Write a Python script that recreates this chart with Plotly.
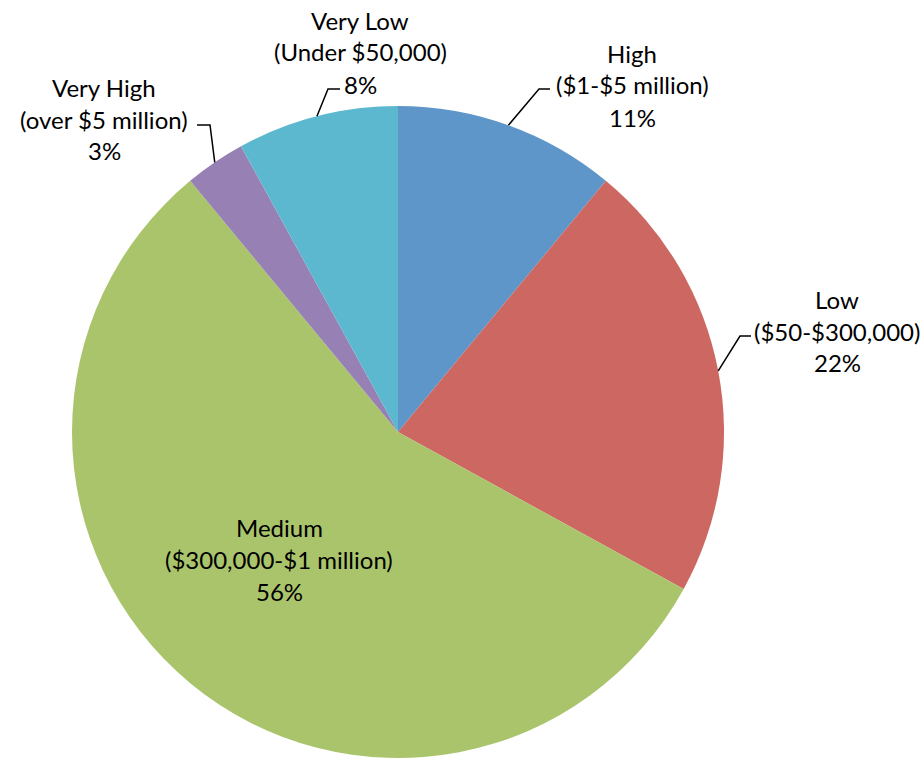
import math
import plotly.graph_objects as go

# Project size distribution
categories = ["High", "Low", "Medium", "Very High", "Very Low"]
ranges = ["($1-$5 million)", "($50-$300,000)", "($300,000-$1 million)",
          "(over $5 million)", "(Under $50,000)"]
shares = [11, 22, 56, 3, 8]
colors = ["#5F96CA", "#CD6761", "#AAC46C", "#9780B4", "#5CB8CF"]

W, H = 922, 758
CX, CY, R = 398, 432, 326  # pie centre / radius in pixels

# label centre (x, first-line y) and leader elbow / end for outside labels
label_pos = {
    "High": (632, 53),
    "Low": (837, 299),
    "Medium": (279, 527),
    "Very High": (104, 87),
    "Very Low": (360, 20),
}
leaders = {
    "High": [(539, 89), (550, 89)],
    "Low": [(740, 336), (751, 336)],
    "Very High": [(210, 125), (197, 125)],
    "Very Low": [(328, 89), (340, 89)],
}

FONT = "Lato"
FS = 24
LINE = 32


def px(x, y):
    return x / W, 1 - y / H


fig = go.Figure(go.Pie(
    labels=categories,
    values=shares,
    marker=dict(colors=colors, line=dict(width=0)),
    sort=False,
    direction="clockwise",
    rotation=0,
    textinfo="none",
    hoverinfo="label+percent",
    domain=dict(x=[(CX - R) / W, (CX + R) / W],
                y=[(H - CY - R) / H, (H - CY + R) / H]),
    showlegend=False,
))

annotations = []
shapes = []
total = sum(shares)
cum = 0
for cat, rng, val in zip(categories, ranges, shares):
    mid = (cum + val / 2) / total * 2 * math.pi
    cum += val
    lx, ly = label_pos[cat]
    lines = [cat, rng, f"{round(val / total * 100)}%"]
    for i, t in enumerate(lines):
        ax, ay = px(lx, ly + i * LINE)
        annotations.append(dict(
            x=ax, y=ay, xref="paper", yref="paper", text=t, showarrow=False,
            xanchor="center", yanchor="middle",
            font=dict(family=FONT, size=FS, color="#000000"),
        ))
    if cat in leaders:
        sx = CX + R * math.sin(mid)
        sy = CY - R * math.cos(mid)
        pts = [(sx, sy)] + leaders[cat]
        path = ""
        for j, (x, y) in enumerate(pts):
            ux, uy = px(x, y)
            path += ("M" if j == 0 else " L") + f"{ux:.5f},{uy:.5f}"
        shapes.append(dict(type="path", path=path, xref="paper", yref="paper",
                           line=dict(color="#000000", width=1.5)))

fig.update_layout(
    width=W, height=H,
    margin=dict(l=0, r=0, t=0, b=0),
    paper_bgcolor="#FFFFFF",
    plot_bgcolor="#FFFFFF",
    annotations=annotations,
    shapes=shapes,
)

fig.write_html("out.html")
